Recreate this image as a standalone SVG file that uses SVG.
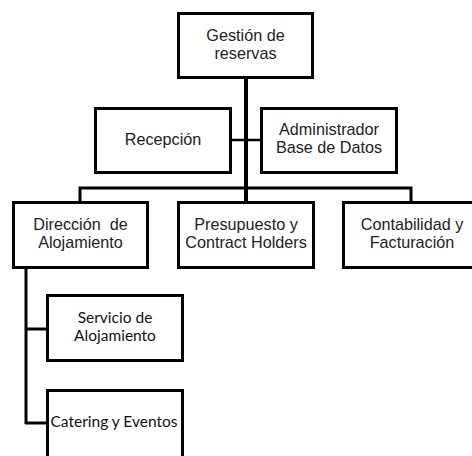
<svg xmlns="http://www.w3.org/2000/svg" width="472" height="456" viewBox="0 0 472 456">
<style>
.box{fill:#fff;stroke:#000;stroke-width:3}
.t{font-family:"Liberation Sans",Arial,sans-serif;font-size:16.2px;fill:#222;text-anchor:middle}
.c{font-family:Lato,"Open Sans",sans-serif;font-size:15.5px;fill:#111;text-anchor:middle}
.ln{stroke:#000;fill:none;stroke-width:3}
</style>
<rect width="472" height="456" fill="#fff"/>
<g id="connectors">
<line class="ln" x1="246" y1="78" x2="246" y2="202" style="stroke-width:4"/>
<line class="ln" x1="231" y1="140" x2="261" y2="140" style="stroke-width:2.5"/>
<polyline class="ln" points="80,202 80,188 411,188 411,202"/>
<line class="ln" x1="26" y1="268" x2="26" y2="424"/>
<line class="ln" x1="25" y1="329" x2="47" y2="329"/>
<line class="ln" x1="25" y1="423" x2="47" y2="423"/>
</g>
<g id="gestion"><rect class="box" x="178.5" y="13.5" width="134" height="64"/>
<text class="t" x="245.5" y="40.5">Gestión de</text><text class="t" x="245.5" y="58.5">reservas</text></g>
<g id="recepcion"><rect class="box" x="95.5" y="108.5" width="135" height="64"/>
<text class="t" x="163" y="145">Recepción</text></g>
<g id="administrador"><rect class="box" x="261.5" y="108.5" width="135" height="64"/>
<text class="t" x="329" y="134.5">Administrador</text><text class="t" x="329" y="152.5">Base de Datos</text></g>
<g id="direccion"><rect class="box" x="13.5" y="202.5" width="134" height="65"/>
<text class="t" x="80.5" y="229.5" xml:space="preserve">Dirección  de</text><text class="t" x="80.5" y="247.5">Alojamiento</text></g>
<g id="presupuesto"><rect class="box" x="178.5" y="202.5" width="135" height="65"/>
<text class="t" x="246" y="229.5">Presupuesto y</text><text class="t" x="246" y="247.5">Contract Holders</text></g>
<g id="contabilidad"><rect class="box" x="343.5" y="202.5" width="137" height="65"/>
<text class="t" x="412" y="229.5">Contabilidad y</text><text class="t" x="412" y="247.5">Facturación</text></g>
<g id="servicio"><rect class="box" x="47.5" y="295.5" width="135" height="65"/>
<text class="c" x="115" y="322.5">Servicio de</text><text class="c" x="115" y="341">Alojamiento</text></g>
<g id="catering"><rect class="box" x="47.5" y="390.5" width="135" height="72"/>
<text class="c" x="114" y="427">Catering y Eventos</text></g>
</svg>
